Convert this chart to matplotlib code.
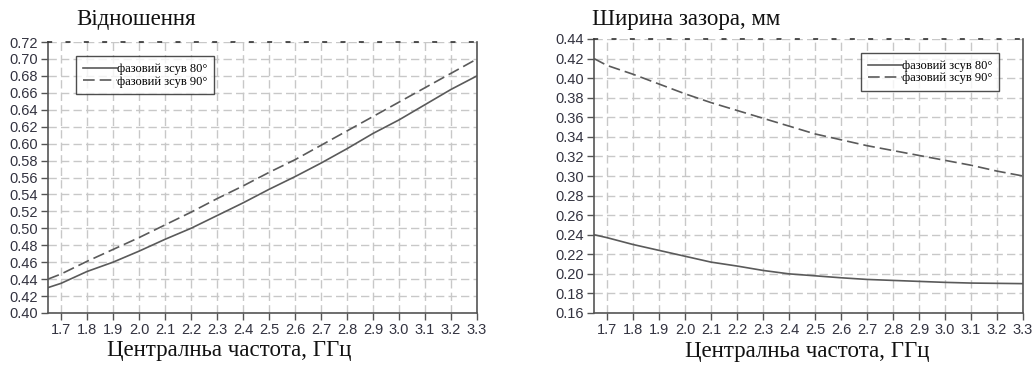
import matplotlib
matplotlib.use("Agg")
import matplotlib.pyplot as plt
import numpy as np

freq = [1.65, 1.7, 1.8, 1.9, 2.0, 2.1, 2.2, 2.3, 2.4, 2.5, 2.6, 2.7, 2.8, 2.9, 3.0, 3.1, 3.2, 3.3]

ratio_80 = [0.430, 0.435, 0.449, 0.460, 0.473, 0.487, 0.500, 0.515, 0.530, 0.546, 0.561, 0.577, 0.594, 0.612, 0.628, 0.646, 0.664, 0.680]
ratio_90 = [0.440, 0.446, 0.461, 0.475, 0.489, 0.504, 0.519, 0.535, 0.550, 0.566, 0.581, 0.598, 0.615, 0.632, 0.649, 0.666, 0.683, 0.700]

gap_80 = [0.240, 0.237, 0.230, 0.224, 0.218, 0.212, 0.208, 0.2035, 0.200, 0.198, 0.196, 0.1943, 0.1933, 0.1923, 0.1913, 0.1906, 0.1903, 0.190]
gap_90 = [0.420, 0.413, 0.404, 0.394, 0.384, 0.375, 0.367, 0.359, 0.351, 0.343, 0.337, 0.331, 0.326, 0.321, 0.316, 0.311, 0.305, 0.300]

xticks = [1.7, 1.8, 1.9, 2.0, 2.1, 2.2, 2.3, 2.4, 2.5, 2.6, 2.7, 2.8, 2.9, 3.0, 3.1, 3.2, 3.3]
left_yticks = [0.40, 0.42, 0.44, 0.46, 0.48, 0.50, 0.52, 0.54, 0.56, 0.58, 0.60, 0.62, 0.64, 0.66, 0.68, 0.70, 0.72]
right_yticks = [0.16, 0.18, 0.20, 0.22, 0.24, 0.26, 0.28, 0.30, 0.32, 0.34, 0.36, 0.38, 0.40, 0.42, 0.44]

label_80 = "фазовий зсув 80°"
label_90 = "фазовий зсув 90°"
left_title = "Відношення"
right_title = "Ширина зазора, мм"
xlabel = "Централньа частота, ГГц"

serif = ["Liberation Serif", "DejaVu Serif"]
sans = ["Liberation Sans", "DejaVu Sans"]

fig = plt.figure(figsize=(10.35, 3.65), dpi=100)
W, H = 1035, 365

def make_ax(l, r, t, b):
    return fig.add_axes([l / W, 1 - b / H, (r - l) / W, (b - t) / H])

ax1 = make_ax(48, 477, 42, 313)
ax2 = make_ax(594, 1023, 39, 313)

line_col = "#5a5a5a"
spine_col = "#555555"
grid_col = "#c8c8c8"
tick_col = "#333340"

def style(ax, yticks, legend_loc, anchor, label_x, label_y):
    ax.set_xlim(1.65, 3.3)
    ax.set_ylim(yticks[0], yticks[-1])
    ax.set_xticks(xticks)
    ax.set_xticklabels([f"{v:.1f}" for v in xticks], family=sans, fontsize=10.5, color=tick_col)
    ax.set_yticks(yticks)
    ax.set_yticklabels([f"{v:.2f}" for v in yticks], family=sans, fontsize=10.5, color=tick_col)
    ax.tick_params(axis="both", direction="out", length=5, width=1, color=spine_col, pad=2)
    ax.grid(True, color=grid_col, linestyle=(0, (6, 3)), linewidth=1)
    for s in ["left", "bottom", "right"]:
        ax.spines[s].set_color(spine_col)
        ax.spines[s].set_linewidth(1.2)
    ax.spines["top"].set_color("#333333")
    ax.spines["top"].set_linestyle((0, (2, 9)))
    ax.spines["top"].set_linewidth(1.2)
    leg = ax.legend(loc=legend_loc, bbox_to_anchor=anchor, prop={"family": serif, "size": 9},
                    frameon=True, fancybox=False, edgecolor="#222222", handlelength=2.7,
                    handletextpad=0.0, borderpad=0.55, labelspacing=0.05, borderaxespad=0.0)
    leg.get_frame().set_linewidth(1.0)
    ax.set_xlabel(xlabel, family=serif, fontsize=16.5, color="#111111")
    ax.xaxis.set_label_coords(label_x, label_y)
    ax.xaxis.label.set_va("center")

ax1.plot(freq, ratio_80, color=line_col, linewidth=1.2, label=label_80)
ax1.plot(freq, ratio_90, color=line_col, linewidth=1.2, linestyle=(0, (7, 3)), label=label_90)
style(ax1, left_yticks, "upper left", ((76 - 48) / 429, (313 - 56) / 271), 0.423, -0.137)

ax2.plot(freq, gap_80, color=line_col, linewidth=1.2, label=label_80)
ax2.plot(freq, gap_90, color=line_col, linewidth=1.2, linestyle=(0, (7, 3)), label=label_90)
style(ax2, right_yticks, "upper right", ((999 - 594) / 429, (313 - 53) / 274), 0.497, -0.142)

fig.text(76 / W, 1 - 19 / H, left_title, family=serif, fontsize=16.5, color="#111111", va="center", ha="left")
fig.text(592 / W, 1 - 19 / H, right_title, family=serif, fontsize=16.5, color="#111111", va="center", ha="left")

fig.savefig("out.png", dpi=100)
